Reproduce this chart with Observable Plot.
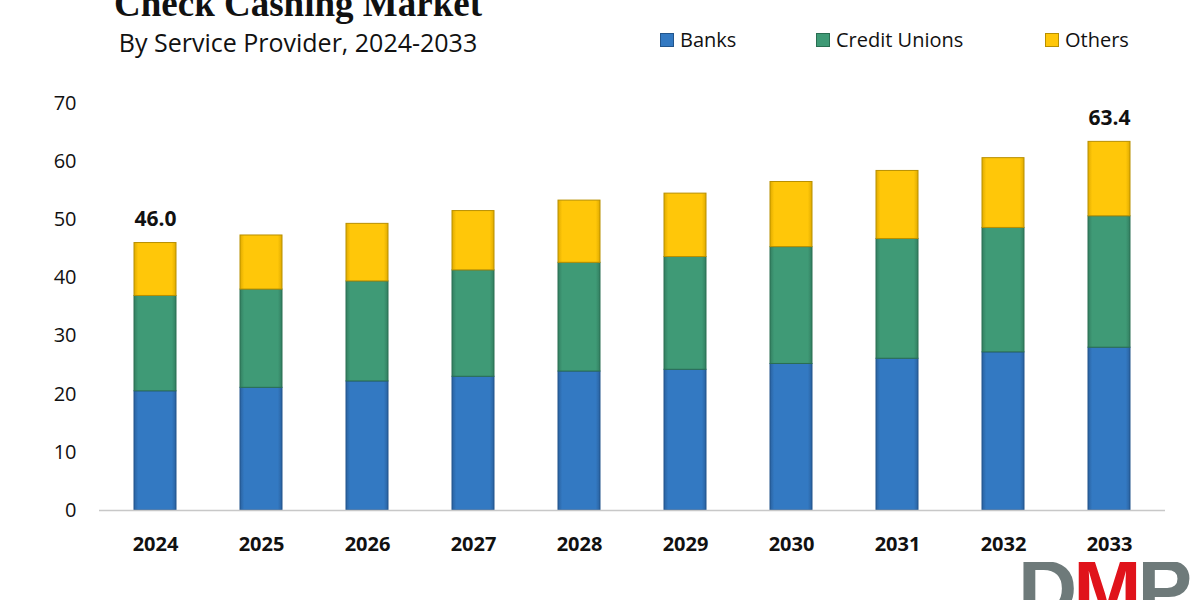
<!DOCTYPE html>
<html>
<head>
<meta charset="utf-8">
<script src="https://cdn.jsdelivr.net/npm/d3@7"></script>
<script src="https://cdn.jsdelivr.net/npm/@observablehq/plot@0.6"></script>
<style>
  html, body { margin: 0; padding: 0; background: #fff; }
  #wrap { position: relative; width: 1200px; height: 600px; overflow: hidden; background: #fff; font-family: "Open Sans", "Noto Sans", sans-serif; }
  #chart { position: absolute; left: 0; top: 0; }
  .title { position: absolute; left: 0; width: 596px; text-align: center; top: -16px; font-family: "Liberation Serif", "DejaVu Serif", serif; font-weight: bold; font-size: 37px; line-height: 40px; color: #111; }
  .subtitle { position: absolute; left: 0; width: 596px; text-align: center; top: 27px; font-size: 25px; line-height: 30px; color: #111; }
  .legend { position: absolute; top: 27px; font-size: 20px; line-height: 26px; color: #111; display: flex; align-items: center; }
  .sw { display: inline-block; width: 14px; height: 14px; margin-right: 6px; box-sizing: border-box; }
  .logoclip { position: absolute; left: 1018px; top: 562px; width: 182px; height: 38px; overflow: hidden; }
  .logo { position: absolute; left: 0; top: -3px; font-family: "Liberation Sans", "DejaVu Sans", sans-serif; font-weight: bold; font-size: 82px; line-height: 60px; letter-spacing: -4px; color: #6e7a7a; white-space: nowrap; }
  .logo .m { color: #e0131b; }
</style>
</head>
<body>
<div id="wrap">
  <div id="chart"></div>
  <div class="title">Check Cashing Market</div>
  <div class="subtitle">By Service Provider, 2024-2033</div>
  <div id="legend"></div>
  <div class="logoclip"><div class="logo">D<span class="m">M</span>P</div></div>
</div>
<script>
const years = ["2024","2025","2026","2027","2028","2029","2030","2031","2032","2033"];
const banks        = [20.5, 21.1, 22.2, 23.0, 23.9, 24.2, 25.2, 26.1, 27.2, 28.0];
const creditUnions = [16.4, 16.9, 17.2, 18.3, 18.7, 19.4, 20.1, 20.6, 21.4, 22.6];
const others       = [ 9.1,  9.3,  9.9, 10.2, 10.7, 10.9, 11.2, 11.7, 12.0, 12.8];
const seriesNames  = ["Banks", "Credit Unions", "Others"];
const seriesColors = ["#3379c2", "#3f9a76", "#ffc709"];
const edgeColors   = ["#2a62a0", "#337f61", "#e0ab00"];
const strokeColors = ["#22558c", "#2a6e52", "#b88f00"];
const labeledTotals = [{year: "2024", label: "46.0"}, {year: "2033", label: "63.4"}];
const yTicks = [0, 10, 20, 30, 40, 50, 60, 70];

const rows = [];
years.forEach((yr, i) => {
  rows.push({year: yr, series: seriesNames[0], value: banks[i]});
  rows.push({year: yr, series: seriesNames[1], value: creditUnions[i]});
  rows.push({year: yr, series: seriesNames[2], value: others[i]});
});
const totals = years.map((yr, i) => ({year: yr, total: banks[i] + creditUnions[i] + others[i]}));
const labelRows = labeledTotals.map(d => ({...d, total: totals.find(t => t.year === d.year).total}));
const gradIds = seriesNames.map((_, i) => "grad" + i);

function gradientDefs() {
  const defs = d3.create("svg:defs");
  seriesNames.forEach((_, i) => {
    const g = defs.append("linearGradient").attr("id", gradIds[i]).attr("x1", 0).attr("x2", 1).attr("y1", 0).attr("y2", 0);
    g.append("stop").attr("offset", "0%").attr("stop-color", edgeColors[i]);
    g.append("stop").attr("offset", "10%").attr("stop-color", seriesColors[i]);
    g.append("stop").attr("offset", "90%").attr("stop-color", seriesColors[i]);
    g.append("stop").attr("offset", "100%").attr("stop-color", edgeColors[i]);
  });
  return defs.node();
}

const chart = Plot.plot({
  width: 1200,
  height: 600,
  marginTop: 103,
  marginBottom: 90,
  marginLeft: 99,
  marginRight: 35,
  style: { fontFamily: "'Open Sans', 'Noto Sans', sans-serif", fontSize: "20px", color: "#111", background: "transparent" },
  x: { domain: years, paddingInner: 0.6, paddingOuter: 0.3, label: null },
  y: { domain: [0, 70], label: null },
  color: { domain: seriesNames, range: gradIds.map(id => `url(#${id})`) },
  marks: [
    gradientDefs,
    Plot.barY(rows, Plot.stackY({
      x: "year", y: "value", fill: "series",
      order: seriesNames,
      stroke: d => strokeColors[seriesNames.indexOf(d.series)],
      strokeWidth: 1
    })),
    Plot.ruleY([0], {stroke: "#c8c8c8", strokeWidth: 1.5}),
    Plot.axisY({ticks: yTicks, tickSize: 0, tickPadding: 23, fontSize: 20, label: null}),
    Plot.axisX({tickSize: 0, tickPadding: 26, fontSize: 20, fontWeight: "bold", label: null}),
    Plot.text(labelRows, {x: "year", y: "total", text: "label", dy: -24, fontSize: 21, fontWeight: "bold", fill: "#111"})
  ]
});
document.getElementById("chart").appendChild(chart);

const legendItems = [
  {name: seriesNames[0], color: seriesColors[0], stroke: strokeColors[0], left: 660},
  {name: seriesNames[1], color: seriesColors[1], stroke: strokeColors[1], left: 816},
  {name: seriesNames[2], color: seriesColors[2], stroke: strokeColors[2], left: 1045}
];
const legendHost = document.getElementById("legend");
legendItems.forEach(it => {
  const d = document.createElement("div");
  d.className = "legend";
  d.style.left = it.left + "px";
  d.innerHTML = `<span class="sw" style="background:${it.color};border:1px solid ${it.stroke}"></span><span>${it.name}</span>`;
  legendHost.appendChild(d);
});
</script>
</body>
</html>
